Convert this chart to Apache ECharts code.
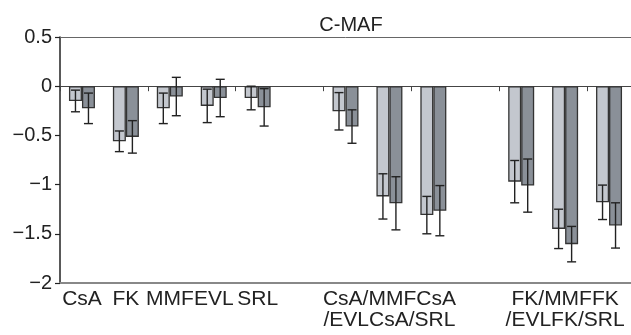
<!DOCTYPE html>
<html>
<head>
<meta charset="utf-8">
<script src="https://cdn.jsdelivr.net/npm/echarts@6/dist/echarts.min.js"></script>
<style>
html,body{margin:0;padding:0;background:#fff;}
#chart{width:631px;height:335px;}
</style>
</head>
<body>
<div id="chart"></div>
<script>
var title = 'C-MAF';
var categories = ['CsA','FK','MMF','EVL','SRL','gap1','CsA/MMF','CsA/EVL','CsA/SRL','gap2','FK/MMF','FK/EVL','FK/SRL'];
var tickLabels = ['CsA','FK','MMF','EVL','SRL','','','CsA/MMFCsA\n/EVLCsA/SRL','','','','FK/MMFFK\n/EVLFK/SRL',''];
var lightValues = [-0.15, -0.56, -0.225, -0.2, -0.12, null, -0.255, -1.12, -1.31, null, -0.97, -1.45, -1.18];
var lightErrors = [0.11, 0.105, 0.155, 0.17, 0.12, null, 0.19, 0.23, 0.19, null, 0.215, 0.2, 0.175];
var darkValues = [-0.225, -0.515, -0.105, -0.12, -0.215, null, -0.41, -1.19, -1.265, null, -1.01, -1.605, -1.415];
var darkErrors = [0.155, 0.165, 0.195, 0.19, 0.19, null, 0.17, 0.27, 0.255, null, 0.27, 0.18, 0.23];
var yTicks = [-2, -1.5, -1, -0.5, 0, 0.5];

var BAR_W = 13;
function barData(vals){ return vals.map(function(v){ return v === null ? '-' : v; }); }
function errData(vals, errs){
  var out = [];
  vals.forEach(function(v,i){ if (v !== null) out.push([i, v, errs[i]]); });
  return out;
}
function errRender(offset){
  return function(params, api){
    var idx = api.value(0), v = api.value(1), e = api.value(2);
    var top = api.coord([idx, v + e]);
    var bot = api.coord([idx, v - e]);
    var x = top[0] + offset;
    var hw = 4.5;
    var style = {stroke:'#222', lineWidth:1.4, fill:null};
    return {type:'group', children:[
      {type:'line', shape:{x1:x, y1:top[1], x2:x, y2:bot[1]}, style:style},
      {type:'line', shape:{x1:x-hw, y1:top[1], x2:x+hw, y2:top[1]}, style:style},
      {type:'line', shape:{x1:x-hw, y1:bot[1], x2:x+hw, y2:bot[1]}, style:style}
    ]};
  };
}

var chart = echarts.init(document.getElementById('chart'), null, {renderer:'canvas'});
var font = 'Liberation Sans, Arial, sans-serif';
chart.setOption({
  animation:false,
  backgroundColor:'#fff',
  title:{text:title, left:346, top:10, textAlign:'center',
    textStyle:{fontFamily:font, fontSize:20, fontWeight:'normal', color:'#222'}},
  grid:{left:60, right:0, top:37, bottom:52, containLabel:false},
  xAxis:[
    {type:'category', data:categories, position:'bottom',
      axisLine:{onZero:false, lineStyle:{color:'#888', width:2}},
      axisTick:{show:false},
      axisLabel:{interval:0, margin:6, fontFamily:font, fontSize:21, color:'#222', lineHeight:21,
        formatter:function(v, i){ return tickLabels[i]; }},
      splitLine:{show:false}},
    {type:'category', data:categories, position:'bottom', gridIndex:0,
      axisLine:{onZero:true, lineStyle:{color:'#444', width:1}},
      axisTick:{show:true, length:5, inside:false, lineStyle:{color:'#444', width:1}},
      axisLabel:{show:false}, splitLine:{show:false}},
    {type:'category', data:categories, position:'top', gridIndex:0,
      axisLine:{onZero:false, lineStyle:{color:'#666', width:1}},
      axisTick:{show:false}, axisLabel:{show:false}, splitLine:{show:false}}
  ],
  yAxis:{type:'value', min:-2, max:0.5, interval:0.5,
    axisLine:{show:true, lineStyle:{color:'#222', width:1.5}},
    axisTick:{show:true, length:5, lineStyle:{color:'#222', width:1.2}},
    splitLine:{show:false},
    axisLabel:{margin:8, fontFamily:font, fontSize:20, color:'#222',
      formatter:function(v){ return String(v).replace('-', '\u2212'); }}},
  series:[
    {type:'bar', xAxisIndex:0, data:barData(lightValues), barWidth:BAR_W, barGap:'0%',
      itemStyle:{color:'#c3c7ce', borderColor:'#333', borderWidth:1.3}},
    {type:'bar', xAxisIndex:0, data:barData(darkValues), barWidth:BAR_W, barGap:'0%',
      itemStyle:{color:'#8a9098', borderColor:'#333', borderWidth:1.3}},
    {type:'custom', xAxisIndex:0, renderItem:errRender(-BAR_W/2), data:errData(lightValues, lightErrors), z:5},
    {type:'custom', xAxisIndex:0, renderItem:errRender(BAR_W/2), data:errData(darkValues, darkErrors), z:5}
  ]
});
</script>
</body>
</html>
